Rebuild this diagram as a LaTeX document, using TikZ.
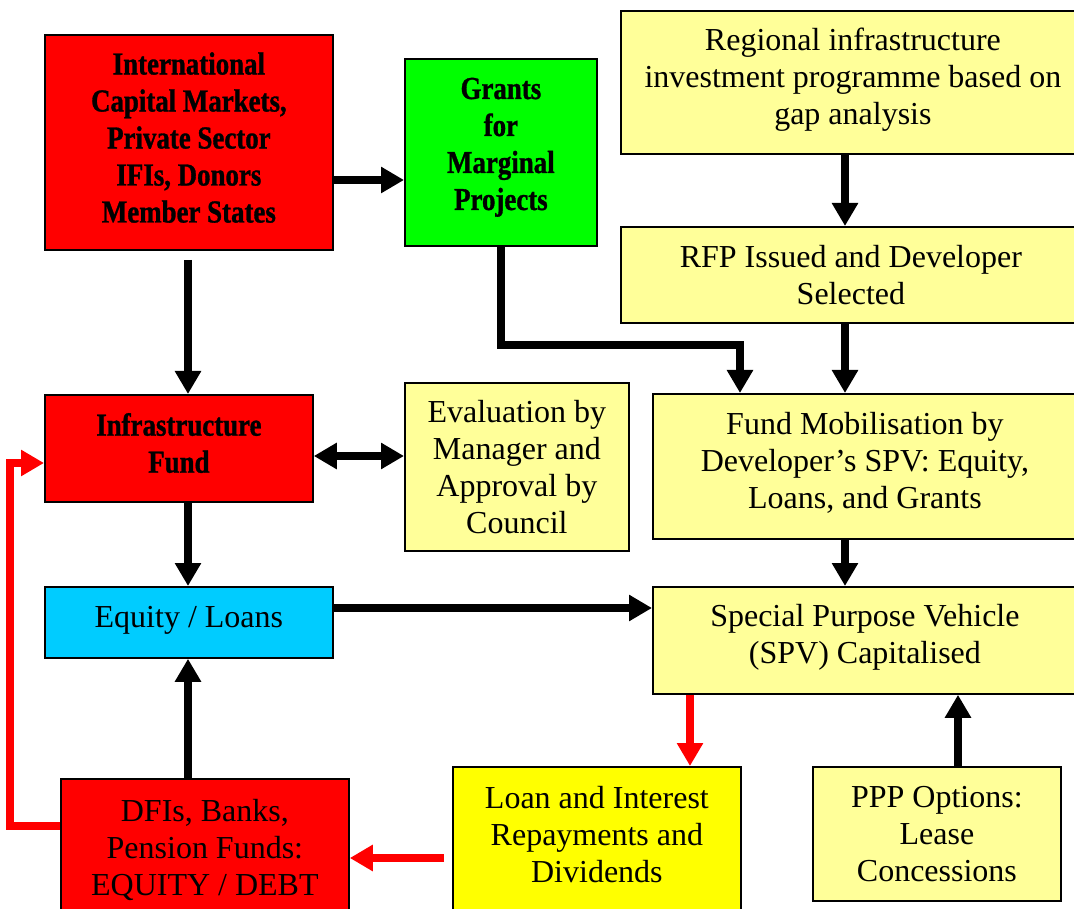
\documentclass[tikz,border=0pt]{standalone}
\usepackage{fontspec}
\setmainfont{Liberation Serif}[BoldFeatures={FakeStretch=0.84,FakeBold=1}]
\usetikzlibrary{arrows.meta}
\definecolor{lyellow}{HTML}{FFFF99}
\definecolor{byellow}{HTML}{FFFF00}
\definecolor{bred}{HTML}{FF0000}
\definecolor{bgreen}{HTML}{00FF00}
\definecolor{bcyan}{HTML}{00CCFF}
\tikzset{
  box/.style={draw=black, line width=1.8pt, rectangle, anchor=north west, align=center,
    inner sep=2pt, font=\fontsize{32}{37}\selectfont},
  boldbox/.style={box, font=\fontsize{32}{37}\selectfont\bfseries},
  arr/.style={line width=8pt, -{Triangle[length=23pt,width=25pt]}},
  darr/.style={line width=8pt, {Triangle[length=23pt,width=25pt]}-{Triangle[length=23pt,width=25pt]}},
  rarr/.style={arr, draw=bred},
}
\begin{document}
\begin{tikzpicture}[x=1pt,y=-1pt]
\useasboundingbox (0,0) rectangle (1074,909);
\clip (0,0) rectangle (1074,909);
\node[boldbox, fill=bred, minimum width=288, minimum height=215, text depth=10pt] (intl) at (44,34)
  {International\\Capital Markets,\\Private Sector\\IFIs, Donors\\Member States};
\node[boldbox, fill=bgreen, minimum width=192, minimum height=187, text depth=17pt] (grants) at (404,58)
  {Grants\\for\\Marginal\\Projects};
\node[box, fill=lyellow, minimum width=464, minimum height=143, text depth=13pt] (regional) at (620,10)
  {Regional infrastructure\\investment programme based on\\gap analysis};
\node[box, fill=lyellow, minimum width=460, minimum height=96] (rfp) at (620,226)
  {RFP Issued and Developer\\Selected};
\node[boldbox, fill=bred, minimum width=268, minimum height=107, text depth=11pt] (fund) at (44,394)
  {Infrastructure\\Fund};
\node[box, fill=lyellow, minimum width=224, minimum height=168] (eval) at (404,382)
  {Evaluation by\\Manager and\\Approval by\\Council};
\node[box, fill=lyellow, minimum width=424, minimum height=145, text depth=13pt] (fundmob) at (652,393)
  {Fund Mobilisation by\\Developer’s SPV: Equity,\\Loans, and Grants};
\node[box, fill=bcyan, minimum width=288, minimum height=71, text depth=11pt] (equity) at (44,586)
  {Equity / Loans};
\node[box, fill=lyellow, minimum width=424, minimum height=107, text depth=13pt] (spv) at (652,586)
  {Special Purpose Vehicle\\(SPV) Capitalised};
\node[box, fill=bred, minimum width=288, minimum height=142] (dfis) at (60,778)
  {DFIs, Banks,\\Pension Funds:\\EQUITY / DEBT};
\node[box, fill=byellow, minimum width=288, inner sep=19pt] (loan) at (452,766)
  {\parbox[c][150pt][t]{250pt}{\centering Loan and Interest\\Repayments and\\Dividends}};
\node[box, fill=lyellow, minimum width=248, minimum height=134] (ppp) at (812,766)
  {PPP Options:\\Lease\\Concessions};
\coordinate (g1) at (740,345);
\coordinate (r1) at (10,826);
\coordinate (r2) at (10,463);
% connectors
\draw[arr] (intl.east |- 0,180) -- (grants.west |- 0,180);
\draw[arr] ([yshift=-9pt]intl.south -| 188,0) -- (fund.north -| 188,0);
\draw[arr] (grants.south) |- (g1) -- (fundmob.north -| g1);
\draw[arr] (regional.south -| 845,0) -- (rfp.north -| 845,0);
\draw[arr] (rfp.south -| 845,0) -- (fundmob.north -| 845,0);
\draw[darr] (fund.east |- 0,456) -- (eval.west |- 0,456);
\draw[arr] (fund.south -| 188,0) -- (equity.north -| 188,0);
\draw[arr] (equity.east |- 0,608) -- (spv.west |- 0,608);
\draw[arr] (fundmob.south -| 845,0) -- (spv.north -| 845,0);
\draw[rarr] (spv.south -| 690,0) -- (loan.north -| 690,0);
\draw[arr] (ppp.north -| 958,0) -- (spv.south -| 958,0);
\draw[arr] (dfis.north -| 188,0) -- (equity.south -| 188,0);
\draw[rarr, shorten <=8pt] (loan.west |- 0,858) -- (dfis.east |- 0,858);
\draw[rarr] (dfis.west |- r1) -- (r1) -- (r2) -- (fund.west |- r2);
\end{tikzpicture}
\end{document}
